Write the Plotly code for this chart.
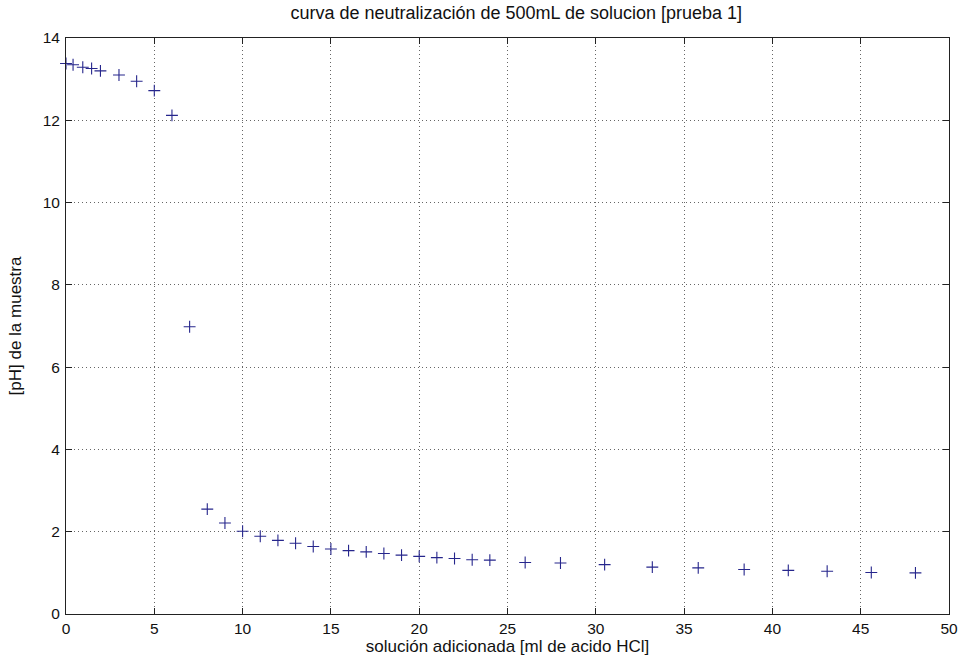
import plotly.graph_objects as go

# Volumen de HCl añadido (mL) y pH medido
volumen_ml = [0, 0.4, 0.95, 1.45, 1.95, 3, 4, 5, 6, 7, 8, 9, 10, 11, 12, 13, 14, 15,
              16, 17, 18, 19, 20, 21, 22, 23, 24, 26, 28, 30.5, 33.2, 35.8, 38.4,
              40.9, 43.1, 45.6, 48.1]
ph_muestra = [13.38, 13.35, 13.29, 13.26, 13.2, 13.1, 12.95, 12.72, 12.12, 6.98, 2.55,
              2.21, 2.01, 1.89, 1.79, 1.72, 1.64, 1.58, 1.54, 1.51, 1.47, 1.43, 1.4,
              1.37, 1.35, 1.32, 1.31, 1.25, 1.24, 1.2, 1.14, 1.12, 1.08, 1.06, 1.04,
              1.01, 1.0]

titulo = "curva de neutralización de 500mL de solucion [prueba 1]"
titulo_x = "solución adicionada [ml de acido HCl]"
titulo_y = "[pH] de la muestra"

fig = go.Figure(
    go.Scatter(
        x=volumen_ml,
        y=ph_muestra,
        mode="markers",
        cliponaxis=False,
        marker=dict(symbol="cross-thin", size=8.5, line=dict(width=1.1, color="#26268c"),
                    color="#26268c"),
        showlegend=False,
    )
)

fuente = "Liberation Sans, Arial, sans-serif"
eje = dict(
    showline=True, linecolor="#222", linewidth=1, mirror="ticks",
    ticks="inside", ticklen=6, tickcolor="#222",
    showgrid=True, gridcolor="#666", griddash="1px,3px", gridwidth=1,
    zeroline=False, automargin=False,
    tickfont=dict(family=fuente, size=15.5, color="#111"),
)

fig.update_layout(
    width=965, height=657,
    margin=dict(l=66, r=16, t=38, b=43),
    paper_bgcolor="white", plot_bgcolor="white",
    title=dict(text=titulo, x=0.535, xanchor="center", y=0.98, yanchor="middle",
               font=dict(family=fuente, size=18, color="#111")),
    xaxis=dict(eje, range=[0, 50], dtick=5, ticklabelstandoff=0,
               title=dict(text=titulo_x, standoff=3,
                          font=dict(family=fuente, size=17, color="#111"))),
    yaxis=dict(eje, range=[0, 14], dtick=2, ticklabelstandoff=2,
               title=dict(text=titulo_y, standoff=16,
                          font=dict(family=fuente, size=17, color="#111"))),
)

fig.write_html("out.html")
